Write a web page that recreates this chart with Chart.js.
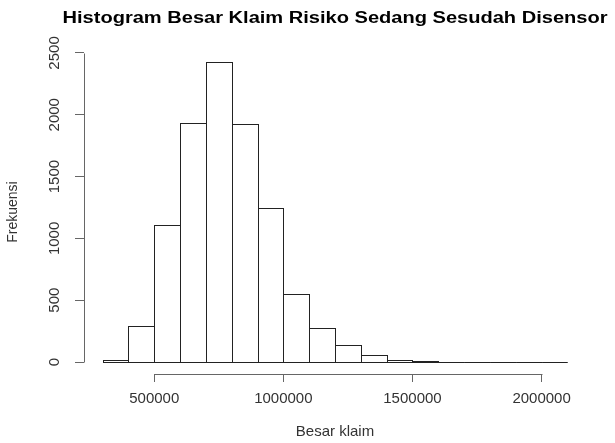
<!DOCTYPE html>
<html>
<head>
<meta charset="utf-8">
<script src="https://cdn.jsdelivr.net/npm/chart.js@4.4.0/dist/chart.umd.min.js"></script>
<style>
  html, body { margin: 0; padding: 0; background: #fff; }
  #wrap { width: 615px; height: 443px; position: relative; }
</style>
</head>
<body>
<div id="wrap"><canvas id="hist"></canvas></div>
<script>
// histogram bins, 100000 wide, value = left edge of the bin
const binStarts = [300000, 400000, 500000, 600000, 700000, 800000, 900000, 1000000, 1100000,
                   1200000, 1300000, 1400000, 1500000, 1600000, 1700000, 1800000, 1900000, 2000000];
const binWidth = 100000;
const counts = [16, 295, 1108, 1933, 2427, 1924, 1248, 549, 279,
                141, 54, 19, 11, 4, 3, 3, 0, 1];

const xTicks = [500000, 1000000, 1500000, 2000000];
const yTicks = [0, 500, 1000, 1500, 2000, 2500];

const chartTitle = 'Histogram Besar Klaim Risiko Sedang Sesudah Disensor';
const xTitle = 'Besar klaim';
const yTitle = 'Frekuensi';

const fontFamily = "'Liberation Sans', Arial, sans-serif";
const barLine = '#222';
const axisLine = '#666';
const textColor = '#333';

const points = binStarts.map((b, i) => ({ x: b + binWidth / 2, y: counts[i] }));

// R style: outlines share edges, so stroke them ourselves
const outlinePlugin = {
    id: 'outline',
    afterDatasetsDraw(chart) {
        const ctx = chart.ctx;
        const bars = chart.getDatasetMeta(0).data;
        ctx.save();
        ctx.strokeStyle = barLine;
        ctx.lineWidth = 1;
        bars.forEach(bar => {
            const l = Math.round(bar.x - bar.width / 2) + 0.5;
            const r = Math.round(bar.x + bar.width / 2) + 0.5;
            const t = Math.round(bar.y) + 0.5;
            const b = Math.round(bar.base) + 0.5;
            ctx.strokeRect(l, t, r - l, b - t);
        });
        ctx.restore();
    }
};

// axis lines only run from first to last tick, plus the main title
const axisPlugin = {
    id: 'raxis',
    afterDraw(chart) {
        const ctx = chart.ctx;
        const xs = chart.scales.x;
        const ys = chart.scales.y;
        const area = chart.chartArea;
        ctx.save();
        ctx.strokeStyle = axisLine;
        ctx.lineWidth = 1;
        ctx.beginPath();
        const yb = Math.round(area.bottom) + 0.5;
        ctx.moveTo(Math.round(xs.getPixelForValue(xTicks[0])) + 0.5, yb);
        ctx.lineTo(Math.round(xs.getPixelForValue(xTicks[xTicks.length - 1])) + 0.5, yb);
        const xl = Math.round(area.left) + 0.5;
        ctx.moveTo(xl, Math.round(ys.getPixelForValue(yTicks[0])) + 0.5);
        ctx.lineTo(xl, Math.round(ys.getPixelForValue(yTicks[yTicks.length - 1])) + 0.5);
        ctx.stroke();

        ctx.font = 'bold 16px ' + fontFamily;
        ctx.fillStyle = '#000';
        ctx.textAlign = 'center';
        ctx.textBaseline = 'alphabetic';
        const w = ctx.measureText(chartTitle).width;
        ctx.translate((area.left + area.right) / 2, 23);
        ctx.scale(545 / w, 1);
        ctx.fillText(chartTitle, 0, 0);
        ctx.restore();
    }
};

const ctx = document.getElementById('hist').getContext('2d');
const hist = new Chart(ctx, {
    type: 'bar',
    data: {
        datasets: [{
            data: points,
            backgroundColor: '#fff',
            borderWidth: 0,
            barPercentage: 1,
            categoryPercentage: 1
        }]
    },
    plugins: [outlinePlugin, axisPlugin],
    options: {
        responsive: true,
        maintainAspectRatio: false,
        animation: false,
        layout: {
            padding: { top: 50, right: 29, left: 0, bottom: 0 }
        },
        plugins: {
            legend: { display: false },
            tooltip: { enabled: false }
        },
        scales: {
            x: {
                type: 'linear',
                offset: false,
                min: 228000,
                max: 2172000,
                afterFit: s => { s.height = 69 },
                afterBuildTicks: s => { s.ticks = xTicks.map(v => ({ value: v })) },
                ticks: {
                    callback: v => String(v),
                    color: textColor,
                    font: { family: fontFamily, size: 15 },
                    padding: 8,
                    maxRotation: 0,
                    autoSkip: false
                },
                grid: {
                    offset: false,
                    drawOnChartArea: false,
                    drawTicks: true,
                    tickLength: 8,
                    color: axisLine
                },
                border: { display: false },
                title: {
                    display: true,
                    text: xTitle,
                    color: textColor,
                    font: { family: fontFamily, size: 15 },
                    padding: { top: 0, bottom: 2 }
                }
            },
            y: {
                min: -97,
                max: 2524,
                afterFit: s => { s.width = 84 },
                afterBuildTicks: s => { s.ticks = yTicks.map(v => ({ value: v })) },
                ticks: {
                    callback: v => String(v),
                    color: textColor,
                    font: { family: fontFamily, size: 15 },
                    minRotation: 90,
                    maxRotation: 90,
                    crossAlign: 'center',
                    padding: 3,
                    autoSkip: false
                },
                grid: {
                    drawOnChartArea: false,
                    drawTicks: true,
                    tickLength: 9,
                    color: axisLine
                },
                border: { display: false },
                title: {
                    display: true,
                    text: yTitle,
                    color: textColor,
                    font: { family: fontFamily, size: 14 },
                    padding: { top: 5, bottom: 0 }
                }
            }
        }
    }
});
</script>
</body>
</html>
